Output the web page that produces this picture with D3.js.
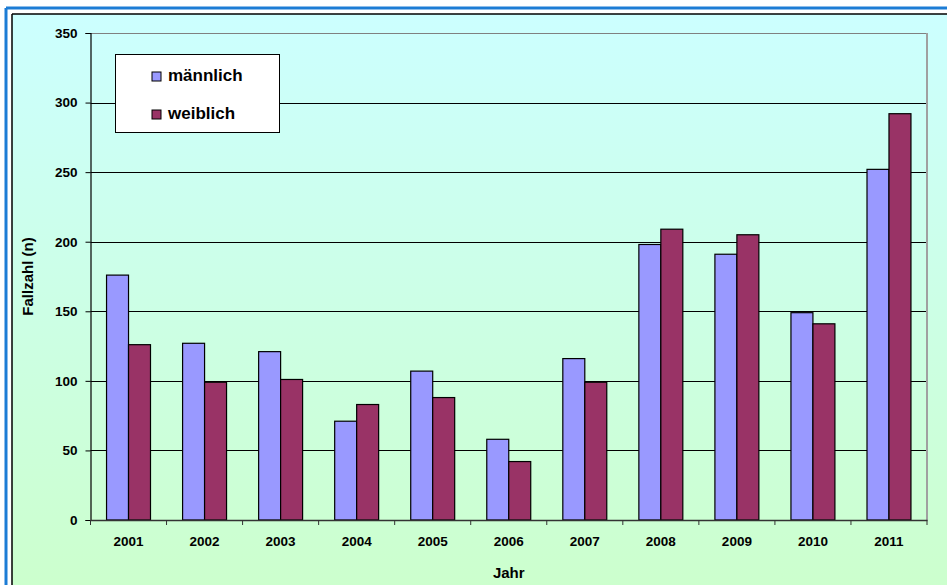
<!DOCTYPE html>
<html><head><meta charset="utf-8">
<script src="https://cdn.jsdelivr.net/npm/d3@7"></script>
<style>body{margin:0;background:#fff;}svg{display:block;font-family:Arial,"Liberation Sans",sans-serif;}</style>
</head><body>
<svg id="c" width="947" height="585"></svg>
<script>
const years = ["2001","2002","2003","2004","2005","2006","2007","2008","2009","2010","2011"];
const seriesNames = ["männlich","weiblich"];
const maennlich = [176,127,121,71,107,58,116,198,191,149,252];
const weiblich = [126,99,101,83,88,42,99,209,205,141,292];
const yTicks = [0,50,100,150,200,250,300,350];
const colors = ["#9999ff","#993366"];

const svg = d3.select("#c");
const defs = svg.append("defs");
const grad = defs.append("linearGradient").attr("id","bg").attr("x1",0).attr("y1",0).attr("x2",0).attr("y2",1);
grad.append("stop").attr("offset","0%").attr("stop-color","#ccffff");
grad.append("stop").attr("offset","100%").attr("stop-color","#ccffcc");

// frame
svg.append("rect").attr("x",12).attr("y",14).attr("width",947).attr("height",585).attr("fill","url(#bg)");
svg.append("line").attr("x1",6).attr("x2",947).attr("y1",8).attr("y2",8).attr("stroke","#1c7cd5").attr("stroke-width",3);
svg.append("line").attr("x1",6).attr("x2",6).attr("y1",8).attr("y2",585).attr("stroke","#1c7cd5").attr("stroke-width",3);
svg.append("line").attr("x1",12).attr("x2",947).attr("y1",14).attr("y2",14).attr("stroke","#000").attr("stroke-width",1.5);
svg.append("line").attr("x1",12).attr("x2",12).attr("y1",14).attr("y2",585).attr("stroke","#000").attr("stroke-width",1.5);

const L=90.5, R=927, T=33, B=520;
const x = d3.scaleBand().domain(years).range([L,R]);
const y = d3.scaleLinear().domain([0,350]).range([B,T]);
const xs = d3.scaleBand().domain(seriesNames).range([0,x.bandwidth()]).paddingOuter(0.73).paddingInner(0);

// gridlines
svg.append("g").selectAll("line").data(yTicks.filter(t=>t>0)).join("line")
  .attr("x1",L).attr("x2",R).attr("y1",d=>Math.round(y(d))+0.5).attr("y2",d=>Math.round(y(d))+0.5)
  .attr("stroke",d=>d===350?"#808080":"#000").attr("stroke-width",1.2);
// right wall
svg.append("line").attr("x1",R).attr("x2",R).attr("y1",T).attr("y2",B).attr("stroke","#a0a0a0").attr("stroke-width",2);

// bars
const data = years.map((yr,i)=>({yr, vals:[maennlich[i],weiblich[i]]}));
const g = svg.append("g");
data.forEach(d=>{
  d.vals.forEach((v,j)=>{
    g.append("rect")
      .attr("x",x(d.yr)+xs(seriesNames[j]))
      .attr("y",y(v))
      .attr("width",xs.bandwidth())
      .attr("height",B-y(v))
      .attr("fill",colors[j]).attr("stroke","#000").attr("stroke-width",1.2);
  });
});

// axes
const ya = svg.append("g").attr("transform",`translate(${L},0)`)
  .call(d3.axisLeft(y).tickValues(yTicks).tickSize(5).tickPadding(8));
ya.select(".domain").attr("stroke","#000").attr("stroke-width",1.2);
ya.selectAll(".tick line").attr("stroke","#000");
ya.selectAll("text").attr("font-size",13.5).attr("font-weight","bold").attr("fill","#000").attr("font-family","Arial, Liberation Sans, sans-serif");

const xa = svg.append("g").attr("transform",`translate(0,${B})`)
  .call(d3.axisBottom(x).tickSize(0).tickPadding(16));
xa.select(".domain").attr("stroke","#333").attr("stroke-width",1.5);
xa.selectAll("text").attr("font-size",13.5).attr("font-weight","bold").attr("fill","#000").attr("font-family","Arial, Liberation Sans, sans-serif");
svg.append("g").selectAll("line").data(d3.range(years.length+1)).join("line")
  .attr("x1",i=>L+i*x.step()).attr("x2",i=>L+i*x.step()).attr("y1",B).attr("y2",B+5).attr("stroke","#333");

// axis titles
svg.append("text").attr("x",(L+R)/2).attr("y",578).attr("text-anchor","middle")
  .attr("font-size",15).attr("font-weight","bold").text("Jahr");
svg.append("text").attr("transform",`translate(33,${(T+B)/2}) rotate(-90)`).attr("text-anchor","middle")
  .attr("font-size",15).attr("font-weight","bold").text("Fallzahl (n)");

// legend
const lg = svg.append("g");
lg.append("rect").attr("x",115.5).attr("y",54.5).attr("width",164).attr("height",78).attr("fill","#fff").attr("stroke","#000").attr("stroke-width",1);
seriesNames.forEach((n,i)=>{
  const yy = 76 + i*38;
  lg.append("rect").attr("x",152).attr("y",yy-4).attr("width",9).attr("height",9).attr("fill",colors[i]).attr("stroke","#000").attr("stroke-width",1);
  lg.append("text").attr("x",168).attr("y",yy+5).attr("font-size",17).attr("font-weight","bold").text(n);
});
</script>
</body></html>
